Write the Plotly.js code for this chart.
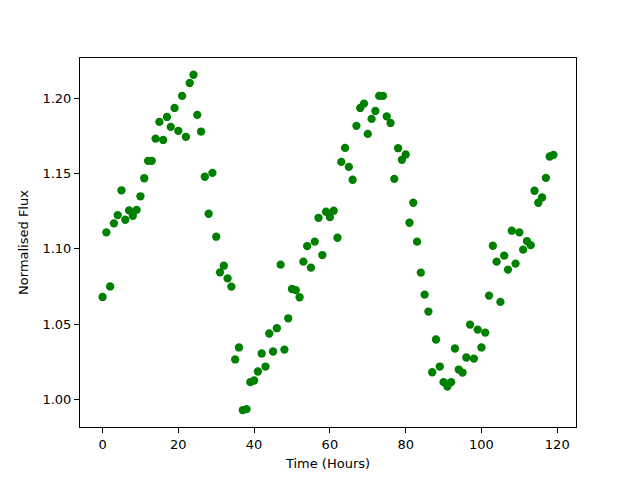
<!DOCTYPE html>
<html>
<head>
<meta charset="utf-8">
<script src="https://cdn.plot.ly/plotly-3.0.1.min.js"></script>
<style>html,body{margin:0;padding:0;background:#fff;}#chart{width:640px;height:480px;}</style>
</head>
<body>
<div id="chart"></div>
<script>
const hours = [];
for (let i = 0; i < 120; i++) hours.push(i);
const flux = [
  1.068, 1.111, 1.075, 1.117, 1.1225, 1.139, 1.1194, 1.1256, 1.122, 1.126,
  1.135, 1.147, 1.1586, 1.1586, 1.1734, 1.1845, 1.1725, 1.1878, 1.1812, 1.1938,
  1.1785, 1.2018, 1.1746, 1.2104, 1.2159, 1.1892, 1.1781, 1.148, 1.1234, 1.1506,
  1.1081, 1.0844, 1.0888, 1.0804, 1.0749, 1.0264, 1.0344, 0.9927, 0.9934, 1.0113,
  1.0124, 1.0184, 1.0304, 1.0217, 1.0437, 1.0317, 1.0472, 1.0895, 1.033, 1.0538,
  1.0733, 1.0726, 1.0678, 1.0915, 1.1019, 1.0875, 1.1048, 1.1207, 1.0959, 1.1247,
  1.1211, 1.1254, 1.1074, 1.1579, 1.1672, 1.1546, 1.146, 1.1819, 1.1938, 1.1967,
  1.1765, 1.1865, 1.1918, 1.2018, 1.2018, 1.1882, 1.1838, 1.1466, 1.167, 1.1593,
  1.1628, 1.1174, 1.1307, 1.1048, 1.0842, 1.0696, 1.0583, 1.0179, 1.0397, 1.0217,
  1.0113, 1.0084, 1.0113, 1.0337, 1.0197, 1.0177, 1.0277, 1.0496, 1.027, 1.0463,
  1.0344, 1.0443, 1.0689, 1.1021, 1.0915, 1.0647, 1.0955, 1.0862, 1.1121, 1.0902,
  1.111, 1.0995, 1.1052, 1.1025, 1.1387, 1.1307, 1.1342, 1.1473, 1.1615, 1.1626
];
const xTicks = [0, 20, 40, 60, 80, 100, 120];
const yTicks = [1.00, 1.05, 1.10, 1.15, 1.20];

const trace = {
  x: hours, y: flux, type: 'scatter', mode: 'markers',
  marker: {color: '#008000', size: 8.3, line: {width: 0}},
  hoverinfo: 'skip'
};
const axisCommon = {
  showgrid: false, zeroline: false, showline: true, mirror: true,
  linecolor: '#000', linewidth: 1, ticks: 'outside', ticklen: 5, tickwidth: 1,
  tickcolor: '#000', tickfont: {family: 'DejaVu Sans', size: 13, color: '#000'}
};
const layout = {
  width: 640, height: 480,
  margin: {l: 80, r: 64, t: 58, b: 53, pad: 0},
  paper_bgcolor: '#fff', plot_bgcolor: '#fff',
  showlegend: false,
  font: {family: 'DejaVu Sans', size: 13, color: '#000'},
  xaxis: Object.assign({}, axisCommon, {
    range: [-5.95, 124.95], tickvals: xTicks, ticktext: xTicks.map(String),
    title: {text: 'Time (Hours)', font: {family: 'DejaVu Sans', size: 13, color: '#000'}, standoff: 8}
  }),
  yaxis: Object.assign({}, axisCommon, {
    range: [0.98146, 1.22704], tickvals: yTicks, ticktext: yTicks.map(v => v.toFixed(2)),
    title: {text: 'Normalised Flux', font: {family: 'DejaVu Sans', size: 13, color: '#000'}, standoff: 10}
  })
};
Plotly.newPlot('chart', [trace], layout, {displayModeBar: false, staticPlot: true});
</script>
</body>
</html>
